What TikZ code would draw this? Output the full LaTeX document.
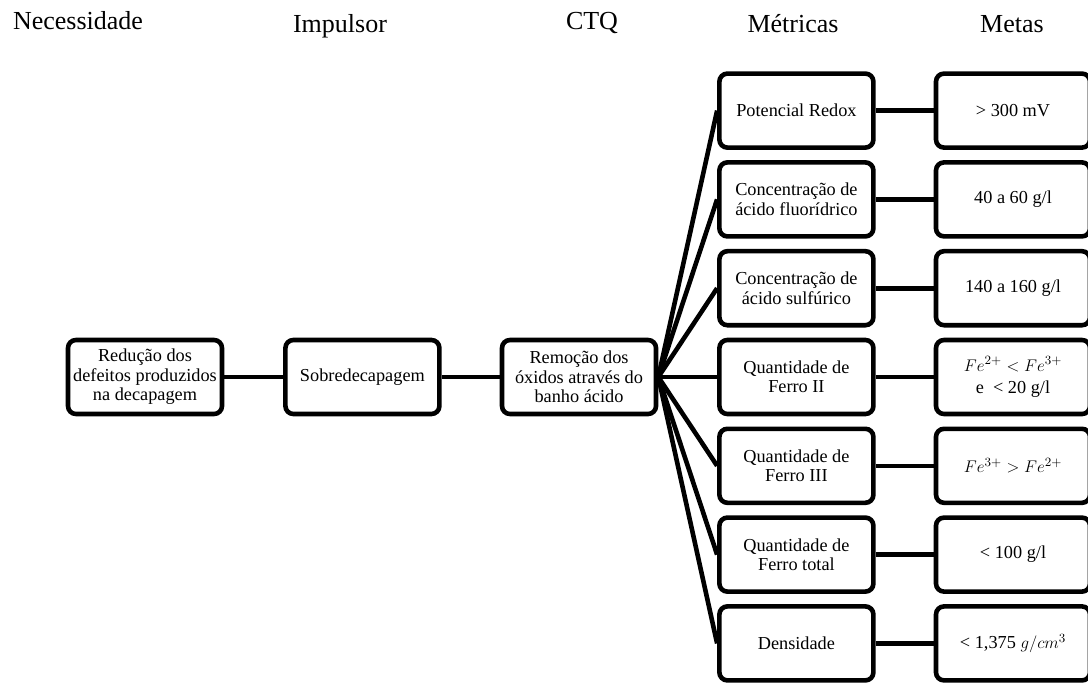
\documentclass[tikz,border=0pt]{standalone}
\usepackage{fontspec}
\setmainfont{Liberation Serif}
\tikzset{
  caixa/.style={draw, line width=0.115cm, rounded corners=0.2cm, fill=white,
    minimum width=3.85cm, minimum height=1.85cm, align=center, inner sep=2pt,
    font=\fontsize{13}{13.8}\selectfont},
  titulo/.style={anchor=base, font=\fontsize{18.5}{22}\selectfont},
  liga/.style={line width=0.115cm}
}
\begin{document}
\begin{tikzpicture}
\useasboundingbox (0,0) rectangle (27.2,17.05);
% cabecalho
\node[titulo] at (1.95, 16.3) (necessidade) {Necessidade};
\node[titulo] at (8.5, 16.225) (impulsor) {Impulsor};
\node[titulo] at (14.8, 16.3) (ctqtit) {CTQ};
\node[titulo] at (19.825, 16.225) (metricas) {Métricas};
\node[titulo] at (25.3, 16.225) (metas) {Metas};
% cadeia principal
\node[caixa] at (3.625, 7.625) (reducao) {Redução dos\\defeitos produzidos\\na decapagem};
\node[caixa] at (9.06, 7.625) (sobre) {Sobredecapagem};
\node[caixa] at (14.475, 7.625) (remocao) {Remoção dos\\óxidos através do\\banho ácido};
% metricas
\node[caixa] at (19.91, 14.285) (redox) {Potencial Redox};
\node[caixa] at (19.91, 12.065) (fluor) {Concentração de\\ácido fluorídrico};
\node[caixa] at (19.91, 9.845) (sulf) {Concentração de\\ácido sulfúrico};
\node[caixa] at (19.91, 7.625) (ferrodois) {Quantidade de\\Ferro II};
\node[caixa] at (19.91, 5.405) (ferrotres) {Quantidade de\\Ferro III};
\node[caixa] at (19.91, 3.185) (ferrotot) {Quantidade de\\Ferro total};
\node[caixa] at (19.91, 0.965) (dens) {Densidade};
% metas
\node[caixa] at (25.325, 14.285) (mredox) {> 300 mV};
\node[caixa] at (25.325, 12.065) (mfluor) {40 a 60 g/l};
\node[caixa] at (25.325, 9.845) (msulf) {140 a 160 g/l};
\node[caixa] at (25.325, 7.625) (mferrodois) {$Fe^{2+} < Fe^{3+}$\\[2pt]e~ < 20 g/l};
\node[caixa] at (25.325, 5.405) (mferrotres) {$Fe^{3+} > Fe^{2+}$};
\node[caixa] at (25.325, 3.185) (mferrotot) {< 100 g/l};
\node[caixa] at (25.325, 0.965) (mdens) {< 1,375 $g/cm^{3}$};
% ligacoes
\draw[liga] (reducao) -- (sobre);
\draw[liga] (sobre) -- (remocao);
\draw[liga] (remocao.east) -- (redox.west);
\draw[liga] (remocao.east) -- (fluor.west);
\draw[liga] (remocao.east) -- (sulf.west);
\draw[liga] (remocao.east) -- (ferrodois.west);
\draw[liga] (remocao.east) -- (ferrotres.west);
\draw[liga] (remocao.east) -- (ferrotot.west);
\draw[liga] (remocao.east) -- (dens.west);
\draw[liga] (redox) -- (mredox);
\draw[liga] (fluor) -- (mfluor);
\draw[liga] (sulf) -- (msulf);
\draw[liga] (ferrodois) -- (mferrodois);
\draw[liga] (ferrotres) -- (mferrotres);
\draw[liga] (ferrotot) -- (mferrotot);
\draw[liga] (dens) -- (mdens);
\end{tikzpicture}
\end{document}
